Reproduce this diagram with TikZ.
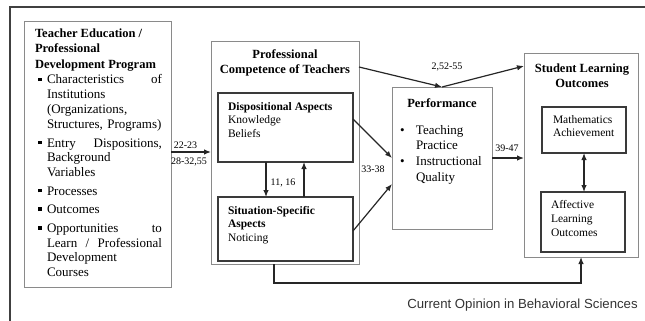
\documentclass[tikz,border=0pt]{standalone}
\usepackage{fontspec}
\setmainfont{Liberation Serif}
\newfontfamily\capfont{Liberation Sans}
\usetikzlibrary{arrows.meta}
\definecolor{boxgray}{HTML}{8A8A8A}
\definecolor{innerdark}{HTML}{3A3A3A}
\definecolor{framec}{HTML}{404040}
\newcommand{\bul}{\makebox[9pt][l]{\raisebox{2.8pt}{\rule{3.6pt}{3.6pt}}}}
\newcommand{\ind}{\hspace*{9pt}}
\newcommand{\fs}[2]{\fontsize{#1}{#2}\selectfont}
\begin{document}
\begin{tikzpicture}[x=1pt,y=-1pt,
  obox/.style={draw=boxgray, line width=1pt, anchor=north west, inner sep=0pt, outer sep=0pt},
  ibox/.style={draw=innerdark, line width=1.2pt, anchor=north west, inner sep=0pt, outer sep=0pt},
  txt/.style={anchor=north west, inner sep=0pt, outer sep=0pt, align=left},
  ctxt/.style={anchor=north, inner sep=0pt, outer sep=0pt, align=center},
  arr/.style={draw=black!85, line width=1.2pt, -{Latex[length=7pt,width=5.5pt]}},
  dbl/.style={draw=black!85, line width=1.2pt, {Latex[length=7pt,width=5.5pt]}-{Latex[length=7pt,width=5.5pt]}},
  plain/.style={draw=black!85, line width=1.2pt},
  lab/.style={font=\fs{10}{12}, inner sep=0pt}
]
\useasboundingbox (0,0) rectangle (645,321);
\draw[framec, line width=1.4pt] (645,7) -- (10,7) -- (10,321);

% boxes
\node[obox, minimum width=147, minimum height=265] (teb) at (24,22) {};
\node[obox, minimum width=148, minimum height=222] (pcb) at (211,42) {};
\node[ibox, minimum width=135, minimum height=69] (disp) at (218,93) {};
\node[ibox, minimum width=135, minimum height=64] (sit) at (218,197) {};
\node[obox, minimum width=100, minimum height=142] (perf) at (392,87) {};
\node[obox, minimum width=114, minimum height=203] (slo) at (524,54) {};
\node[ibox, minimum width=84, minimum height=46] (math) at (542,107) {};
\node[ibox, minimum width=84, minimum height=60] (aff) at (541,192) {};

% texts
\node[txt, font=\bfseries\fs{12.5}{15.5}] (tebt) at (35,27)
  {\rule{0pt}{10pt}Teacher Education /\\Professional\\Development Program};
\node[txt, text width=124, font=\fs{13}{14.8}] (tebb) at (38,74)
  {\rule{0pt}{10pt}\bul Characteristics\hfill of\\
   \ind Institutions\\
   \ind (Organizations,\\
   \ind Structures, Programs)\\[3.8pt]
   \bul Entry\hfill Dispositions,\\
   \ind Background\\
   \ind Variables\\[3.8pt]
   \bul Processes\\[3.8pt]
   \bul Outcomes\\[3.8pt]
   \bul Opportunities\hfill to\\
   \ind Learn\hfill/\hfill Professional\\
   \ind Development\\
   \ind Courses};
\node[ctxt, font=\bfseries\fs{12.5}{15}] (pcbt) at (285,49)
  {\rule{0pt}{10pt}Professional\\Competence of Teachers};
\node[txt, font=\fs{11.5}{13.5}] (dispt) at (228,101)
  {\rule{0pt}{9pt}\textbf{Dispositional Aspects}\\Knowledge\\Beliefs};
\node[txt, font=\fs{11.5}{13.5}] (sitt) at (228,205)
  {\rule{0pt}{9pt}\textbf{Situation-Specific}\\\textbf{Aspects}\\Noticing};
\node[ctxt, font=\bfseries\fs{12.5}{15}] (perft) at (442,97)
  {\rule{0pt}{10pt}Performance};
\node[txt, font=\fs{13}{15.7}] (perfb) at (400,124)
  {\rule{0pt}{10pt}\makebox[16pt][l]{\textbullet}Teaching\\
   \hspace*{16pt}Practice\\
   \makebox[16pt][l]{\textbullet}Instructional\\
   \hspace*{16pt}Quality};
\node[ctxt, font=\bfseries\fs{12.5}{15}] (slot) at (582,62)
  {\rule{0pt}{10pt}Student Learning\\Outcomes};
\node[txt, font=\fs{11.5}{13}] (matht) at (553,114)
  {\rule{0pt}{9pt}Mathematics\\Achievement};
\node[txt, font=\fs{11.5}{14}] (afft) at (551,199)
  {\rule{0pt}{9pt}Affective\\Learning\\Outcomes};

% labels
\node[lab] (l1) at (185.5,145) {22-23};
\node[lab] (l2) at (189,162) {28-32,55};
\node[lab] (l3) at (447,67) {2,52-55};
\node[lab] (l4) at (373,169) {33-38};
\node[lab] (l5) at (283,183) {11, 16};
\node[lab] (l6) at (507,148) {39-47};
\node[anchor=base, inner sep=0pt, font=\capfont\fs{13.2}{15}, text=black!80] (cap) at (522.5,308)
  {Current Opinion in Behavioral Sciences};

% connectors
\coordinate (a1) at ([yshift=2.5pt]teb.east);
\draw[arr] (a1) -- (a1 -| pcb.west);
\draw[arr] ([yshift=-25pt]pcb.north east) -- (perf.north);
\draw[arr] (perf.north) -- ([yshift=-12pt]slo.north west);
\draw[arr] ([yshift=8.5pt]disp.east) -- (perf.west);
\draw[arr] ([yshift=-2pt]sit.east) -- ([yshift=-26pt]perf.west);
\coordinate (d1) at ([xshift=-19.5pt]disp.south);
\coordinate (u1) at ([xshift=18.5pt]disp.south);
\draw[arr] (d1) -- (d1 |- sit.north);
\draw[arr] (u1 |- sit.north) -- (u1);
\draw[arr] (perf.east) -- (perf.east -| slo.west);
\draw[dbl] (math.south) -- (math.south |- aff.north);
\draw[arr] ([xshift=-11pt]pcb.south) -- ++(0,19) -| (slo.south);
\end{tikzpicture}
\end{document}
